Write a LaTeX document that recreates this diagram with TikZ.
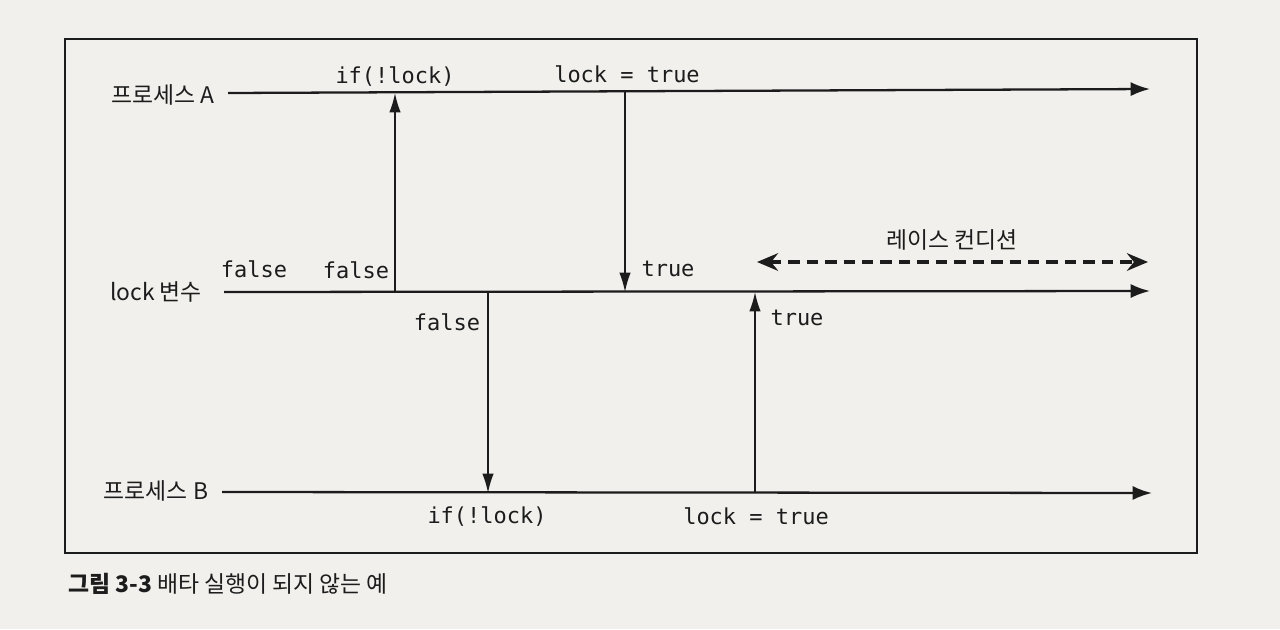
\documentclass[tikz,border=0pt]{standalone}
\usepackage{fontspec}
\setmonofont{DejaVu Sans Mono}
\newfontfamily\krfont{Noto Sans CJK KR}
\usetikzlibrary{arrows.meta,positioning}
\definecolor{paper}{RGB}{241,240,236}
\definecolor{ink}{RGB}{28,28,28}
\tikzset{
    timeline/.style={
        line width=1.3pt,
        ink,
        -{Latex[length=11pt, width=8pt]}
    },
    % 값이 오가는 세로 화살표
    signal/.style={
        line width=0.9pt,
        ink,
        -{Latex[length=11pt, width=6.5pt]}
    },
    race/.style={
        line width=1.9pt,
        ink,
        dash pattern=on 6.5pt off 4pt,
        {Stealth[length=12pt, width=10pt, inset=4pt]}-{Stealth[length=12pt, width=10pt, inset=4pt]}
    },
    codetxt/.style={font=\fontsize{12.5}{15}\selectfont\ttfamily, ink, inner sep=1pt},
    krtxt/.style={font=\fontsize{13}{15}\selectfont\krfont, ink, inner sep=1pt}
}
\begin{document}
\begin{tikzpicture}[x=0.02cm, y=-0.02cm]
    \fill[paper] (0,0) rectangle (1280,629);
    \useasboundingbox (0,0) rectangle (1280,629);
    \draw[ink, line width=1pt] (65,39) rectangle (1197,553);

    \node[krtxt] (procA) at (163,95) {프로세스 A};
    \node[krtxt] (lockvar) at (156,292) {lock 변수};
    \node[krtxt] (procB) at (156,491) {프로세스 B};

    \coordinate (aS) at (228,93);  \coordinate (aE) at (1150,89);
    \coordinate (lS) at (224,292); \coordinate (lE) at (1150,291);
    \coordinate (bS) at (222,492); \coordinate (bE) at (1152,493);
    \draw[timeline] (aS) -- (aE);
    \draw[timeline] (lS) -- (lE);
    \draw[timeline] (bS) -- (bE);

    \coordinate (p1) at (395,293); \coordinate (q1) at (395,93);
    \coordinate (p2) at (625,91);  \coordinate (q2) at (625,292);
    \coordinate (p3) at (488,293); \coordinate (q3) at (488,493);
    \coordinate (p4) at (755,493); \coordinate (q4) at (755,292);
    \draw[signal] (p1) -- (q1);
    \draw[signal] (p2) -- (q2);
    \draw[signal] (p3) -- (q3);
    \draw[signal] (p4) -- (q4);

    \node[codetxt] (ifA) at (395,77) {if(!lock)};
    \node[codetxt] (setA) at (627,74) {lock = true};
    \node[codetxt] (f0) at (254,269) {false};
    \node[codetxt] (f1) at (356,270) {false};
    \node[codetxt] (t1) at (668,269) {true};
    \node[codetxt] (f2) at (447,322) {false};
    \node[codetxt] (t2) at (797,318) {true};
    \node[codetxt] (ifB) at (487,517) {if(!lock)};
    \node[codetxt] (setB) at (756,516) {lock = true};

    \coordinate (rS) at (757,262); \coordinate (rE) at (1148,262);
    \draw[race] (rS) -- (rE);
    \node[krtxt] (racelbl) at (952,240) {레이스 컨디션};

    \node[krtxt, anchor=west] (cap) at (66,584) {\textbf{그림 3-3} 배타 실행이 되지 않는 예};
\end{tikzpicture}
\end{document}
